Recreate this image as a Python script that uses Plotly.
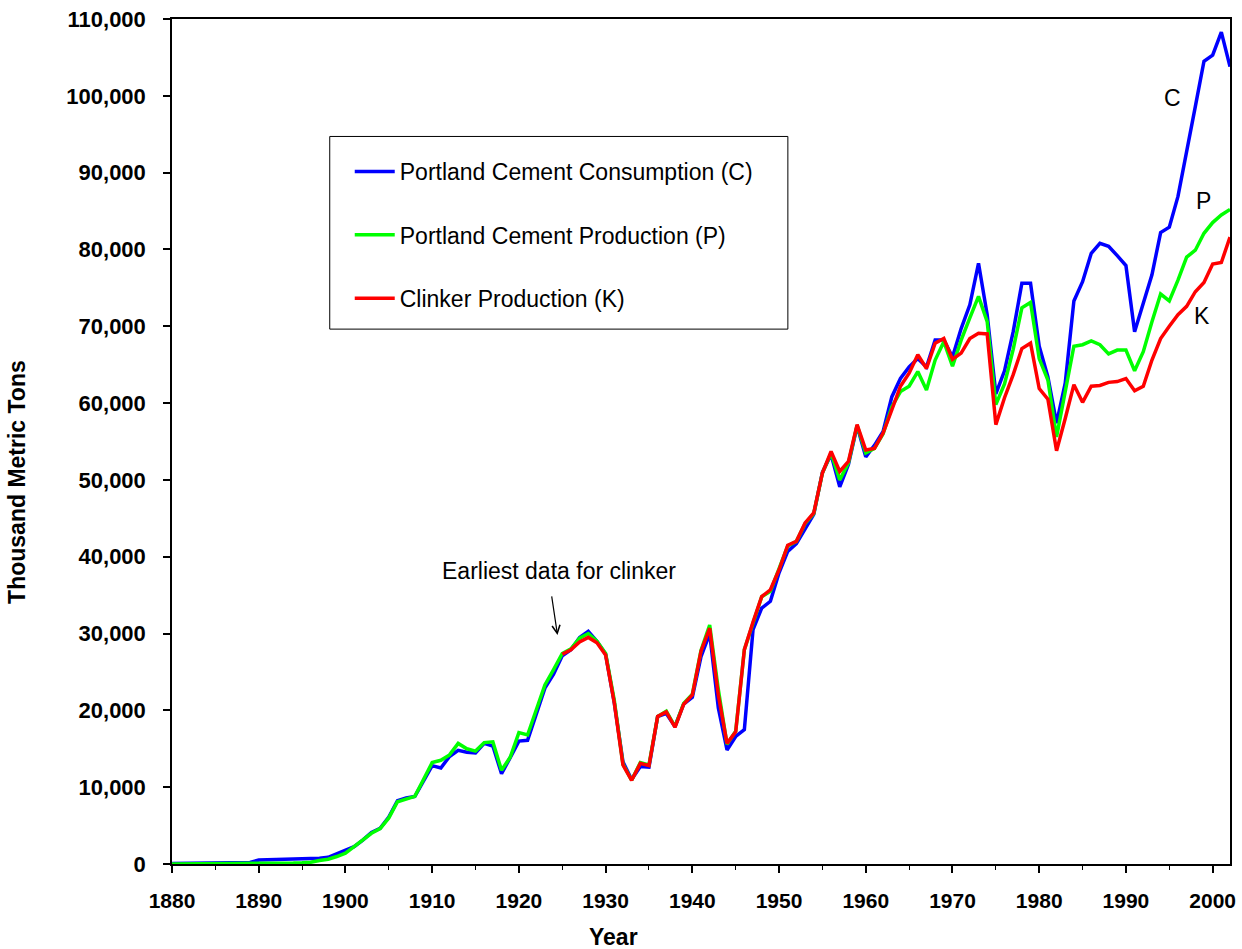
import plotly.graph_objects as go

years = list(range(1880, 2003))

consumption = [
    60, 70, 90, 100, 110, 120, 130, 140, 160, 200,
    520, 600, 590, 610, 630, 680, 720, 760, 870, 1350,
    1800, 2250, 3120, 4100, 4640, 6100, 8250, 8600, 8800, 10900,
    12800, 12500, 14000, 14800, 14550, 14450, 15700, 15350, 11750, 13850,
    16000, 16100, 19600, 22900, 24700, 27100, 27900, 29500, 30300, 29000,
    27300, 21000, 13300, 11000, 12700, 12600, 19200, 19600, 17900, 20800,
    21700, 27000, 30000, 20300, 14850, 16600, 17500, 30500, 33300, 34200,
    37900, 40700, 41700, 43700, 45500, 51000, 53300, 49100, 52000, 57000,
    53000, 54500, 56300, 60800, 63200, 64700, 65800, 64700, 68200, 68200,
    66000, 69700, 72800, 78200, 71500, 61200, 64200, 69300, 75600, 75600,
    67400, 63400, 57400, 62600, 73300, 75800, 79500, 80800, 80400, 79200,
    77900, 69300, 73200, 76700, 82200, 82900, 86900, 92500, 98600, 104500,
    105300, 108300, 103800,
]

production = [
    7, 10, 15, 15, 17, 25, 26, 16, 45, 51,
    57, 77, 93, 101, 134, 169, 230, 455, 626, 973,
    1400, 2250, 3100, 4000, 4600, 6000, 8100, 8400, 8800, 11000,
    13200, 13500, 14200, 15700, 15000, 14700, 15800, 15900, 12200, 13900,
    17100, 16800, 20000, 23300, 25300, 27400, 28000, 29400, 30000, 29000,
    27400, 21300, 13000, 10900, 13200, 12900, 19200, 19900, 17900, 20900,
    22100, 27800, 31100, 22700, 15600, 17300, 27900, 31400, 34800, 35500,
    38300, 41400, 42000, 44300, 45600, 50900, 53500, 50000, 52200, 57100,
    53500, 54100, 56000, 59500, 61500, 62200, 64100, 61700, 65600, 68000,
    64800, 68200, 71100, 73900, 70600, 59800, 62500, 67000, 72400, 73100,
    65800, 63000, 55600, 61500, 67400, 67600, 68100, 67600, 66400, 66900,
    66900, 64200, 66700, 70600, 74200, 73300, 76000, 79000, 79900, 82100,
    83500, 84500, 85200,
]

clinker_years = list(range(1925, 2003))
clinker = [
    27300, 27900, 28900, 29500, 28800,
    27200, 21000, 12900, 10900, 13100, 12800, 19200, 19800, 17800, 20800,
    22000, 27700, 30700, 22000, 15700, 17200, 27900, 31500, 34800, 35700,
    38300, 41500, 42000, 44400, 45700, 50900, 53700, 51100, 52400, 57200,
    53900, 54100, 56100, 59100, 62200, 63900, 66300, 64500, 67800, 68400,
    65700, 66500, 68400, 69100, 69000, 57200, 60700, 63700, 67100, 67800,
    61900, 60500, 53800, 58000, 62400, 60100, 62200, 62300, 62700, 62800,
    63200, 61600, 62200, 65600, 68400, 70000, 71500, 72600, 74500, 75700,
    78100, 78300, 81600,
]

series_names = [
    "Portland Cement Consumption (C)",
    "Portland Cement Production (P)",
    "Clinker Production (K)",
]
series_colors = ["#0000FF", "#00FF00", "#FF0000"]

y_ticks = list(range(0, 110001, 10000))
x_ticks = list(range(1880, 2001, 10))

FONT = "Liberation Sans, Arial, sans-serif"

fig = go.Figure()
for i, (xs, ys) in enumerate([(years, consumption), (years, production), (clinker_years, clinker)]):
    fig.add_trace(go.Scatter(
        x=xs, y=ys, mode="lines", name=series_names[i],
        line=dict(color=series_colors[i], width=3.5),
        legendgroup=f"g{i}",
    ))

fig.update_layout(
    width=1242, height=949,
    margin=dict(l=172, r=12, t=19, b=85, autoexpand=False),
    paper_bgcolor="white", plot_bgcolor="white",
    font=dict(family=FONT, color="black"),
    showlegend=True,
    legend=dict(
        x=0.168, y=0.845, xanchor="left", yanchor="top",
        bgcolor="rgba(0,0,0,0)", borderwidth=0,
        font=dict(size=23, family=FONT, color="black"),
        tracegroupgap=30.5, itemwidth=40,
    ),
    xaxis=dict(
        range=[1880, 2002], tickmode="array", tickvals=x_ticks,
        ticks="outside", ticklen=7, tickwidth=1.5, tickcolor="black",
        showline=True, linecolor="black", linewidth=1.5, mirror=True,
        showgrid=False, zeroline=False, automargin=False,
        tickfont=dict(size=21, family=FONT, weight="bold", color="black"),
        ticklabelstandoff=10, ticklabeloverflow="allow",
        minor=dict(dtick=5, ticks="outside", ticklen=4, tickcolor="black", tickwidth=1.2, showgrid=False),
    ),
    yaxis=dict(
        range=[0, 110000], tickmode="array", tickvals=y_ticks,
        tickformat=",",
        ticks="outside", ticklen=7, tickwidth=1.5, tickcolor="black",
        showline=True, linecolor="black", linewidth=1.5, mirror=True,
        showgrid=False, zeroline=False, automargin=False,
        tickfont=dict(size=22, family=FONT, weight="bold", color="black"),
        ticklabelstandoff=13, ticklabeloverflow="allow",
    ),
    shapes=[dict(
        type="rect", xref="paper", yref="paper",
        x0=0.1491, x1=0.5821, y0=0.6330, y1=0.8610,
        line=dict(color="black", width=1), fillcolor="rgba(0,0,0,0)",
    )],
    annotations=[
        dict(text="Year", xref="paper", yref="paper", x=0.4176, y=-0.0864,
             xanchor="center", yanchor="middle",
             showarrow=False, font=dict(size=23, family=FONT, weight="bold")),
        dict(text="Thousand Metric Tons", xref="paper", yref="paper", x=-0.1465, y=0.4522,
             xanchor="center", yanchor="middle",
             textangle=-90, showarrow=False, font=dict(size=23, family=FONT, weight="bold")),
        dict(text="C", x=1995.36, y=99670, showarrow=False, xanchor="center", yanchor="middle",
             font=dict(size=23, family=FONT)),
        dict(text="P", x=1998.94, y=86260, showarrow=False, xanchor="center", yanchor="middle",
             font=dict(size=23, family=FONT)),
        dict(text="K", x=1998.82, y=71350, showarrow=False, xanchor="center", yanchor="middle",
             font=dict(size=23, family=FONT)),
        dict(text="Earliest data for clinker", x=1924.6, y=38150, showarrow=False,
             xanchor="center", yanchor="middle", font=dict(size=23, family=FONT)),
        dict(text="", x=1924.45, y=29816, ax=-6, ay=-40, showarrow=True,
             arrowhead=5, arrowsize=1.3, arrowwidth=1.2, arrowcolor="black"),
    ],
)

fig.write_html(
    "out.html",
    config={"displayModeBar": False},
    post_script="document.body.style.margin='0';document.body.style.overflow='hidden';",
)
